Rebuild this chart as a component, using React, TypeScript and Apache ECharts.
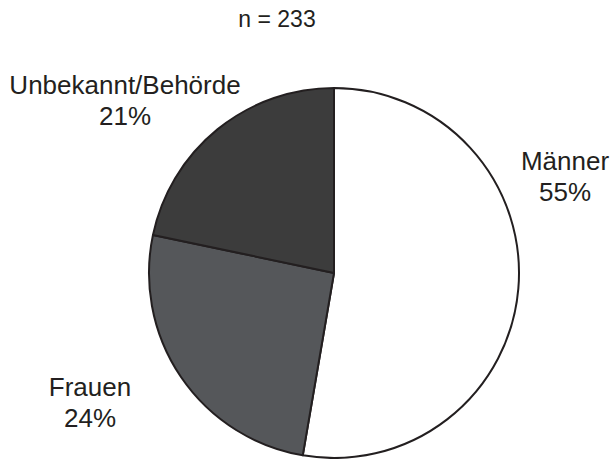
import React, { useEffect, useRef } from "react";
import * as echarts from "echarts";

const categories = ["Männer", "Frauen", "Unbekannt/Behörde"];
// slice sizes as drawn in the picture (share of the circle, %)
const sliceValues = [52.7, 25.6, 21.7];
// percentages printed in the labels
const labelPercents = ["55%", "24%", "21%"];
const sliceColors = ["#ffffff", "#55575a", "#3c3c3c"];
const sampleLabel = "n = 233";
// label anchor positions (centre of each two-line label)
const labelAnchors: [number, number][] = [
  [565, 176],
  [90, 402],
  [125, 100],
];

export default function App() {
  const ref = useRef<HTMLDivElement>(null);
  useEffect(() => {
    document.body.style.margin = "0";
    if (!ref.current) return;
    const chart = echarts.init(ref.current, undefined, { renderer: "svg" });
    chart.setOption({
      animation: false,
      backgroundColor: "#ffffff",
      title: {
        text: sampleLabel,
        left: 272,
        top: 2,
        textAlign: "center",
        textStyle: {
          fontFamily: "Liberation Sans, Arial, sans-serif",
          fontSize: 23,
          fontWeight: "normal",
          color: "#231f20",
        },
      },
      series: [
        {
          type: "pie",
          center: [334, 273],
          radius: 185,
          startAngle: 90,
          clockwise: true,
          avoidLabelOverlap: false,
          emphasis: { disabled: true },
          itemStyle: { borderColor: "#231f20", borderWidth: 2 },
          labelLine: { show: false },
          label: {
            show: true,
            position: "outside",
            fontFamily: "Liberation Sans, Arial, sans-serif",
            fontSize: 26,
            lineHeight: 31,
            color: "#231f20",
            align: "center",
            formatter: (p: any) => `${p.name}\n${labelPercents[p.dataIndex]}`,
          },
          labelLayout: (p: any) => ({
            x: labelAnchors[p.dataIndex][0],
            y: labelAnchors[p.dataIndex][1],
            align: "center",
            verticalAlign: "middle",
          }),
          data: categories.map((name, i) => ({
            name,
            value: sliceValues[i],
            itemStyle: { color: sliceColors[i] },
          })),
        },
      ],
    });
    return () => chart.dispose();
  }, []);
  return <div ref={ref} style={{ width: 613, height: 459 }} />;
}
